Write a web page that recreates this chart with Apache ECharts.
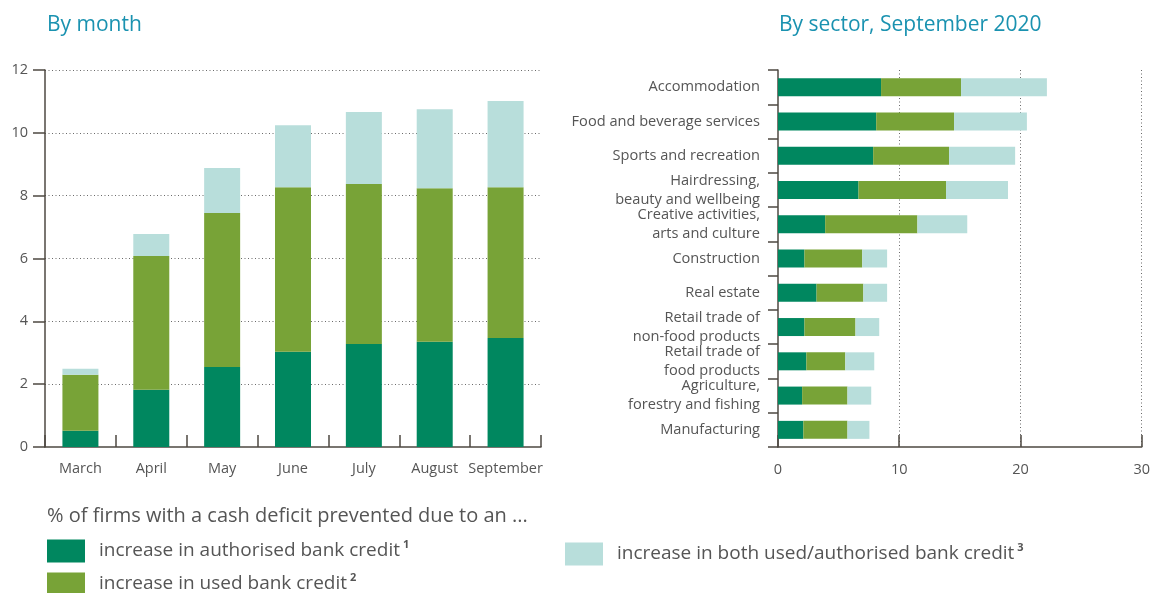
<!DOCTYPE html>
<html>
<head>
<meta charset="utf-8">
<script src="https://cdn.jsdelivr.net/npm/echarts@6/dist/echarts.min.js"></script>
<style>
  html, body { margin: 0; padding: 0; background: #fff; }
  #chart { width: 1153px; height: 593px; }
</style>
</head>
<body>
<div id="chart"></div>
<script>
// Series names (shared by both panels)
const seriesNames = [
  'increase in authorised bank credit',
  'increase in used bank credit',
  'increase in both used/authorised bank credit'
];
const seriesSup = ['1', '2', '3'];
const seriesColors = ['#00875f', '#78a337', '#b8dedb'];

// Left panel: by month (% of firms)
const months = ['March', 'April', 'May', 'June', 'July', 'August', 'September'];
const monthAuthorised = [0.52, 1.82, 2.55, 3.03, 3.28, 3.35, 3.47];
const monthUsed       = [1.78, 4.26, 4.90, 5.24, 5.09, 4.89, 4.80];
const monthBoth       = [0.19, 0.70, 1.43, 1.97, 2.29, 2.51, 2.74];
const monthTicks = [0, 2, 4, 6, 8, 10, 12];

// Right panel: by sector, September 2020
const sectors = [
  'Accommodation',
  'Food and beverage services',
  'Sports and recreation',
  'Hairdressing,\nbeauty and wellbeing',
  'Creative activities,\narts and culture',
  'Construction',
  'Real estate',
  'Retail trade of\nnon-food products',
  'Retail trade of\nfood products',
  'Agriculture,\nforestry and fishing',
  'Manufacturing'
];
const sectorAuthorised = [8.50, 8.10, 7.85, 6.64, 3.89, 2.18, 3.18, 2.18, 2.34, 1.99, 2.09];
const sectorUsed       = [6.60, 6.42, 6.26, 7.22, 7.61, 4.77, 3.86, 4.21, 3.21, 3.74, 3.64];
const sectorBoth       = [7.08, 6.01, 5.45, 5.11, 4.11, 2.05, 1.96, 1.96, 2.39, 1.96, 1.81];
const sectorTicks = [0, 10, 20, 30];

const FONT = '"Open Sans", "Noto Sans", sans-serif';
const AXIS = '#4e4842';
const TEXT = '#555555';
const TITLE = '#1a92b0';

const chart = echarts.init(document.getElementById('chart'), null, { renderer: 'canvas' });

const dotted = { color: '#6a6a6a', width: 1, type: [1, 2.5] };

const monthData = [monthAuthorised, monthUsed, monthBoth];
const sectorData = [sectorAuthorised, sectorUsed, sectorBoth];

const series = [];
seriesNames.forEach((name, i) => {
  series.push({
    name, type: 'bar', stack: 'month', xAxisIndex: 0, yAxisIndex: 0,
    data: monthData[i], barWidth: 36,
    itemStyle: { color: seriesColors[i] }, emphasis: { disabled: true }, z: 2
  });
});
seriesNames.forEach((name, i) => {
  series.push({
    name, type: 'bar', stack: 'sector', xAxisIndex: 1, yAxisIndex: 1,
    data: sectorData[i], barWidth: 18,
    itemStyle: { color: seriesColors[i] }, emphasis: { disabled: true }, z: 2
  });
});

const legendText = {
  fontFamily: FONT, fontSize: 19, color: TEXT, padding: [0, 0, 0, 9],
  rich: {
    t: { fontFamily: FONT, fontSize: 19, color: TEXT, lineHeight: 24 },
    s: { fontFamily: FONT, fontSize: 11, fontWeight: 'bold', color: TEXT, verticalAlign: 'top', lineHeight: 24, padding: [0, 0, 0, 3] }
  }
};
const legendFormatter = name => '{t|' + name + '}{s|' + seriesSup[seriesNames.indexOf(name)] + '}';

// One legend block per entry so each swatch sits where it belongs
const legendPos = [[42, 534], [42, 567], [560, 537]];
const legend = seriesNames.map((name, i) => ({
  data: [name], left: legendPos[i][0], top: legendPos[i][1],
  itemWidth: 38, itemHeight: 23, icon: 'rect',
  selectedMode: false, textStyle: legendText, formatter: legendFormatter
}));

const titleStyle = { fontFamily: FONT, fontSize: 21, fontWeight: 'normal', color: TITLE };

chart.setOption({
  animation: false,
  textStyle: { fontFamily: FONT },
  title: [
    { text: 'By month', left: 42, top: 10, textStyle: titleStyle },
    { text: 'By sector, September 2020', left: 774, top: 10, textStyle: titleStyle },
    { text: '% of firms with a cash deficit prevented due to an ...', left: 42, top: 501,
      textStyle: { fontFamily: FONT, fontSize: 20, fontWeight: 'normal', color: TEXT } }
  ],
  legend,
  grid: [
    { left: 45, top: 70, width: 496, height: 377, containLabel: false },
    { left: 778, top: 70, width: 364, height: 377, containLabel: false }
  ],
  xAxis: [
    {
      gridIndex: 0, type: 'category', data: months, boundaryGap: true,
      axisLine: { lineStyle: { color: AXIS, width: 1.5 } },
      axisTick: { show: true, inside: true, length: 12, lineStyle: { color: AXIS, width: 1.5 } },
      axisLabel: { color: TEXT, fontSize: 14.5, margin: 14, interval: 0 },
      splitLine: { show: false }
    },
    {
      gridIndex: 1, type: 'value', min: sectorTicks[0], max: sectorTicks[sectorTicks.length - 1], interval: 10,
      axisLine: { show: true, lineStyle: { color: AXIS, width: 1.5 } },
      axisTick: { show: true, inside: true, length: 12, lineStyle: { color: AXIS, width: 1.5 } },
      axisLabel: { color: TEXT, fontSize: 14.5, margin: 15 },
      splitLine: { show: true, lineStyle: dotted, showMinLine: false }
    }
  ],
  yAxis: [
    {
      gridIndex: 0, type: 'value', min: monthTicks[0], max: monthTicks[monthTicks.length - 1], interval: 2,
      axisLine: { show: true, lineStyle: { color: AXIS, width: 1.5 } },
      axisTick: { show: true, inside: false, length: 12, lineStyle: { color: AXIS, width: 1.5 } },
      axisLabel: { color: TEXT, fontSize: 14.5, margin: 17 },
      splitLine: { show: true, lineStyle: dotted, showMinLine: false }
    },
    {
      gridIndex: 1, type: 'category', data: sectors, inverse: true, boundaryGap: true,
      axisLine: { show: true, lineStyle: { color: AXIS, width: 1.5 } },
      axisTick: { show: true, inside: false, length: 10, lineStyle: { color: AXIS, width: 1.5 } },
      axisLabel: { color: TEXT, fontSize: 14.6, margin: 18, lineHeight: 19, interval: 0, align: 'right' },
      splitLine: { show: false }
    }
  ],
  series
});
</script>
</body>
</html>
